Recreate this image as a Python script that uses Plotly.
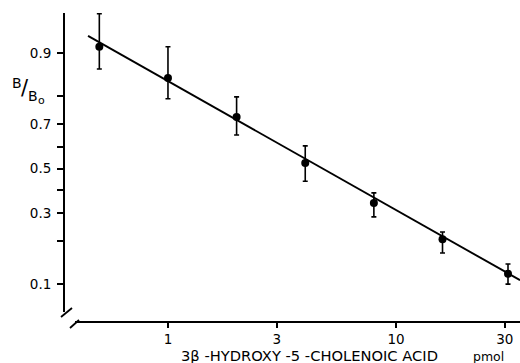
import numpy as np
import plotly.graph_objects as go

# data
amount_pmol = [0.5, 1, 2, 4, 8, 16, 31]
b_b0 = [0.91, 0.848, 0.727, 0.526, 0.342, 0.207, 0.119]
b_b0_upper = [0.95, 0.91, 0.796, 0.606, 0.386, 0.23, 0.14]
b_b0_lower = [0.869, 0.79, 0.654, 0.44, 0.285, 0.167, 0.10]
fit_x = [0.446, 35]
fit_y = [0.9256, 0.107]
x_tick_vals = [1, 3, 10, 30]
x_tick_text = ["1", "3", "10", "30"]
y_tick_vals = [0.1, 0.2, 0.3, 0.4, 0.5, 0.6, 0.7, 0.8, 0.9]
y_tick_text = ["0.1", "", "0.3", "", "0.5", "", "0.7", "", "0.9"]


def logit(p):
    p = np.asarray(p, dtype=float)
    return np.log(p / (1 - p))


yl = logit(b_b0)
err_plus = logit(b_b0_upper) - yl
err_minus = yl - logit(b_b0_lower)

FONT = "DejaVu Sans"
fig = go.Figure()
fig.add_trace(go.Scatter(x=fit_x, y=logit(fit_y), mode="lines",
                         line=dict(color="black", width=1.9), showlegend=False))
fig.add_trace(go.Scatter(
    x=amount_pmol, y=yl, mode="markers",
    marker=dict(color="black", size=8),
    error_y=dict(type="data", symmetric=False, array=err_plus, arrayminus=err_minus,
                 color="black", thickness=1.6, width=2.5),
    showlegend=False))

W, H = 520, 363
L, R, T, B = 64, 0, 13, 41
pw, ph = W - L - R, H - T - B


def px(xp):
    return (xp - L) / pw


def py(yp):
    return (H - B - yp) / ph


shapes = [
    dict(type="line", xref="paper", yref="paper", x0=0, x1=0, y0=py(312), y1=1,
         line=dict(color="black", width=2)),
    dict(type="line", xref="paper", yref="paper", x0=px(75), x1=1, y0=0, y1=0,
         line=dict(color="black", width=2)),
    dict(type="line", xref="paper", yref="paper", x0=px(61), x1=px(72), y0=py(317), y1=py(308),
         line=dict(color="black", width=1.8)),
    dict(type="line", xref="paper", yref="paper", x0=px(70), x1=px(79), y0=py(328), y1=py(320),
         line=dict(color="black", width=1.8)),
]

annotations = [
    dict(text="3β -HYDROXY -5 -CHOLENOIC ACID", xref="paper", yref="paper",
         x=px(309), y=py(355), showarrow=False, xanchor="center", yanchor="middle",
         font=dict(family=FONT, size=14.7, color="black")),
    dict(text="pmol", xref="paper", yref="paper",
         x=px(488), y=py(356), showarrow=False, xanchor="center", yanchor="middle",
         font=dict(family=FONT, size=12.5, color="black")),
    dict(text="B", xref="paper", yref="paper", x=px(17), y=py(83), showarrow=False,
         xanchor="center", yanchor="middle", font=dict(family=FONT, size=14, color="black")),
    dict(text="/", xref="paper", yref="paper", x=px(25), y=py(88), showarrow=False,
         xanchor="center", yanchor="middle", font=dict(family=FONT, size=21, color="black")),
    dict(text="B", xref="paper", yref="paper", x=px(33), y=py(96), showarrow=False,
         xanchor="center", yanchor="middle", font=dict(family=FONT, size=14, color="black")),
    dict(text="o", xref="paper", yref="paper", x=px(41), y=py(101), showarrow=False,
         xanchor="center", yanchor="middle", font=dict(family=FONT, size=11, color="black")),
]

fig.update_layout(
    width=W, height=H, margin=dict(l=L, r=R, t=T, b=B, autoexpand=False),
    paper_bgcolor="white", plot_bgcolor="white",
    shapes=shapes, annotations=annotations,
    xaxis=dict(type="log", range=[-0.456, 1.544], showgrid=False, zeroline=False,
               showline=False, tickmode="array", tickvals=x_tick_vals, ticktext=x_tick_text,
               ticks="outside", ticklen=5, tickwidth=1.5, tickcolor="black",
               tickfont=dict(family=FONT, size=13.5, color="black")),
    yaxis=dict(range=[-2.918, 2.956], showgrid=False, zeroline=False, showline=False,
               tickmode="array", tickvals=logit(y_tick_vals).tolist(), ticktext=y_tick_text,
               ticks="outside", ticklen=6, tickwidth=1.5, tickcolor="black",
               ticklabelstandoff=3,
               tickfont=dict(family=FONT, size=13.5, color="black")),
)
fig.write_html("out.html", config={"displayModeBar": False},
               post_script="document.body.style.margin='0px';document.body.style.padding='0px';")
